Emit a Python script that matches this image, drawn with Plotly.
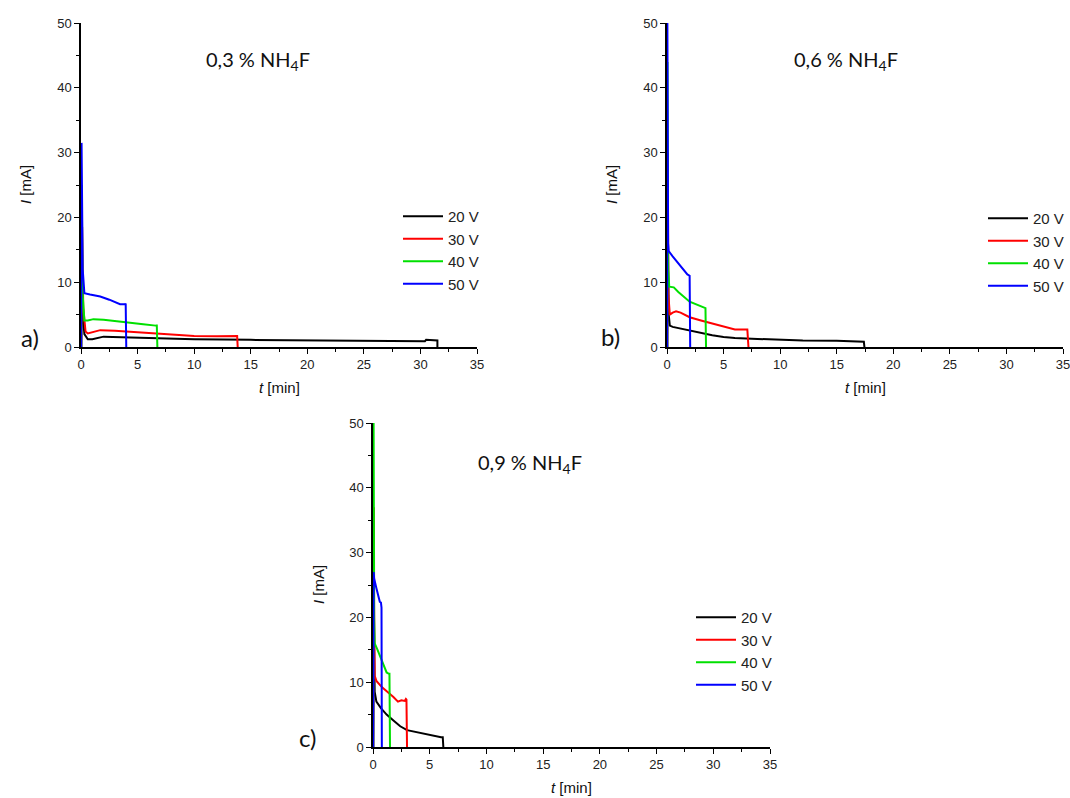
import plotly.graph_objects as go

W, H = 1070, 798

voltages = ["20 V", "30 V", "40 V", "50 V"]
colors = ["#000000", "#ff0000", "#00e000", "#0000ff"]
titles = ["0,3 % NH<sub>4</sub>F", "0,6 % NH<sub>4</sub>F", "0,9 % NH<sub>4</sub>F"]
panel_labels = ["a)", "b)", "c)"]
x_ticks = [0, 5, 10, 15, 20, 25, 30, 35]
y_ticks = [0, 10, 20, 30, 40, 50]

# ---- panel a: 0.3 % NH4F ----
t_a_20 = [0.02, 0.08, 0.15, 0.3, 0.6, 1.0, 2.0, 3.0, 5.0, 8.0, 10, 15, 20, 25, 30.0, 30.4, 30.5, 31.4, 31.5, 31.5]
i_a_20 = [0, 11.3, 5.0, 2.0, 1.2, 1.2, 1.6, 1.55, 1.45, 1.3, 1.2, 1.1, 1.0, 0.95, 0.9, 0.9, 1.1, 1.1, 1.0, 0]
t_a_30 = [0.02, 0.1, 0.2, 0.4, 0.6, 1.0, 1.7, 3.0, 4.0, 6.0, 8.0, 10.0, 12.0, 13.5, 13.8, 13.85]
i_a_30 = [0, 18.5, 6.0, 2.4, 2.1, 2.3, 2.6, 2.5, 2.4, 2.1, 1.9, 1.7, 1.65, 1.7, 1.7, 0]
t_a_40 = [0.02, 0.06, 0.15, 0.3, 0.6, 1.1, 2.0, 4.0, 5.5, 6.6, 6.7, 6.75]
i_a_40 = [0, 25.0, 8.0, 4.1, 4.1, 4.3, 4.2, 3.75, 3.5, 3.3, 3.3, 0]
t_a_50 = [0.02, 0.05, 0.15, 0.3, 0.8, 1.7, 2.5, 3.45, 3.9, 3.95, 4.0]
i_a_50 = [0, 31.5, 12.0, 8.3, 8.1, 7.8, 7.3, 6.6, 6.6, 6.7, 0]

# ---- panel b: 0.6 % NH4F ----
t_b_20 = [0.02, 0.05, 0.15, 0.25, 0.5, 1.0, 2.0, 3.0, 4.0, 5.0, 6.0, 8.0, 10.0, 12.0, 15.0, 17.4, 17.45]
i_b_20 = [0, 21.0, 5.0, 3.3, 3.1, 2.9, 2.5, 2.1, 1.8, 1.55, 1.4, 1.25, 1.1, 1.0, 0.95, 0.8, 0]
t_b_30 = [0.02, 0.07, 0.12, 0.25, 0.5, 0.8, 1.2, 2.0, 3.0, 4.0, 5.0, 6.0, 7.1, 7.2]
i_b_30 = [0, 30.0, 8.0, 5.0, 5.3, 5.5, 5.3, 4.6, 4.1, 3.6, 3.1, 2.7, 2.7, 0]
t_b_40 = [0.02, 0.04, 0.1, 0.2, 0.6, 1.0, 2.0, 2.8, 3.35, 3.4, 3.45]
i_b_40 = [0, 44.0, 12.0, 9.3, 9.2, 8.5, 7.0, 6.4, 6.1, 6.0, 0]
t_b_50 = [0.02, 0.03, 0.1, 0.15, 0.5, 1.2, 1.8, 2.0, 2.05]
i_b_50 = [0, 52.0, 16.0, 14.8, 14.0, 12.5, 11.2, 11.0, 0]

# ---- panel c: 0.9 % NH4F ----
t_c_20 = [0.02, 0.05, 0.1, 0.15, 0.3, 0.7, 1.2, 1.8, 2.4, 3.0, 4.0, 5.0, 6.0, 6.15, 6.2]
i_c_20 = [0, 30.5, 15.0, 8.5, 7.0, 6.0, 5.0, 4.1, 3.2, 2.6, 2.2, 1.8, 1.5, 1.5, 0]
t_c_30 = [0.02, 0.08, 0.1, 0.15, 0.3, 0.8, 1.3, 1.8, 2.2, 2.5, 2.8, 2.9, 2.95, 3.0]
i_c_30 = [0, 37.0, 22.0, 11.0, 10.2, 9.2, 8.5, 7.7, 7.0, 7.2, 7.1, 7.4, 7.3, 0]
t_c_40 = [0.02, 0.05, 0.1, 0.15, 0.4, 0.75, 0.95, 1.2, 1.4, 1.45, 1.5]
i_c_40 = [0, 52.0, 20.0, 16.0, 15.0, 13.5, 12.8, 11.5, 11.3, 11.3, 0]
t_c_50 = [0.02, 0.06, 0.1, 0.3, 0.5, 0.6, 0.7, 0.75, 0.78]
i_c_50 = [0, 27.0, 26.0, 24.5, 23.0, 22.4, 22.3, 21.5, 0]

panels = [
    [(t_a_20, i_a_20), (t_a_30, i_a_30), (t_a_40, i_a_40), (t_a_50, i_a_50)],
    [(t_b_20, i_b_20), (t_b_30, i_b_30), (t_b_40, i_b_40), (t_b_50, i_b_50)],
    [(t_c_20, i_c_20), (t_c_30, i_c_30), (t_c_40, i_c_40), (t_c_50, i_c_50)],
]

# plot-area pixel boxes (left, right, top, bottom)
boxes = [(81, 477, 23, 347), (667, 1063, 23, 347), (373, 770, 423, 747)]
legend_pos = [(398, 200), (983, 202), (691, 601)]
title_pos = [(258, 60), (846, 60), (530, 463)]
label_pos = [(30, 338), (610, 336), (307, 737)]

fig = go.Figure()
layout = dict(
    width=W, height=H, autosize=False,
    margin=dict(l=0, r=0, t=0, b=0, pad=0, autoexpand=False),
    paper_bgcolor="white", plot_bgcolor="white",
    font=dict(family="Liberation Sans, Arial, sans-serif", color="#222"),
    showlegend=True,
)


def note(text, px, py, size, family=None, angle=0):
    f = dict(size=size, color="#111")
    if family:
        f["family"] = family
    return dict(text=text, x=px / W, y=1 - py / H, xref="paper", yref="paper",
                xanchor="center", yanchor="middle", showarrow=False,
                textangle=angle, font=f)


annotations = []
for k, series in enumerate(panels):
    sfx = "" if k == 0 else str(k + 1)
    l, r, t, b = boxes[k]
    legname = "legend" if k == 0 else f"legend{k + 1}"
    for j, (tt, ii) in enumerate(series):
        fig.add_trace(go.Scatter(
            x=tt, y=ii, mode="lines", name=voltages[j],
            line=dict(color=colors[j], width=2),
            xaxis="x" + sfx, yaxis="y" + sfx, legend=legname,
        ))
    axstyle = dict(showline=True, linecolor="#000", linewidth=1.5, ticks="outside",
                   ticklen=5, tickwidth=1.2, tickcolor="#000", showgrid=False, zeroline=False,
                   automargin=False, ticklabeloverflow="allow",
                   tickfont=dict(size=13, color="#222"),
                   minor=dict(ticks="outside", ticklen=3, tickwidth=1.2, tickcolor="#000"))
    layout["xaxis" + sfx] = dict(axstyle, domain=[l / W, r / W], range=[0, 35],
                                 tickvals=x_ticks, minor=dict(axstyle["minor"], dtick=2.5),
                                 anchor="y" + sfx)
    layout["yaxis" + sfx] = dict(axstyle, domain=[1 - b / H, 1 - t / H], range=[0, 50],
                                 tickvals=y_ticks, minor=dict(axstyle["minor"], dtick=5),
                                 anchor="x" + sfx)
    lx, ly = legend_pos[k]
    layout[legname] = dict(x=lx / W, y=1 - ly / H, xanchor="left", yanchor="top",
                           bgcolor="rgba(0,0,0,0)", font=dict(size=15, color="#222"),
                           itemwidth=40, tracegroupgap=0)
    tx, ty = title_pos[k]
    annotations.append(note(titles[k], tx, ty, 20, "Lato, Open Sans"))
    px, py = label_pos[k]
    annotations.append(note(panel_labels[k], px, py, 24, "Lato, Open Sans"))
    annotations.append(note("<i>I</i> [mA]", l - 55, (t + b) / 2, 15, angle=-90))
    annotations.append(note("<i>t</i> [min]", (l + r) / 2, b + 40, 15))
layout["annotations"] = annotations
fig.update_layout(**layout)
fig.write_html("out.html",
               config={"responsive": False, "displayModeBar": False},
               post_script="document.body.style.margin='0';document.body.style.overflow='hidden';")
